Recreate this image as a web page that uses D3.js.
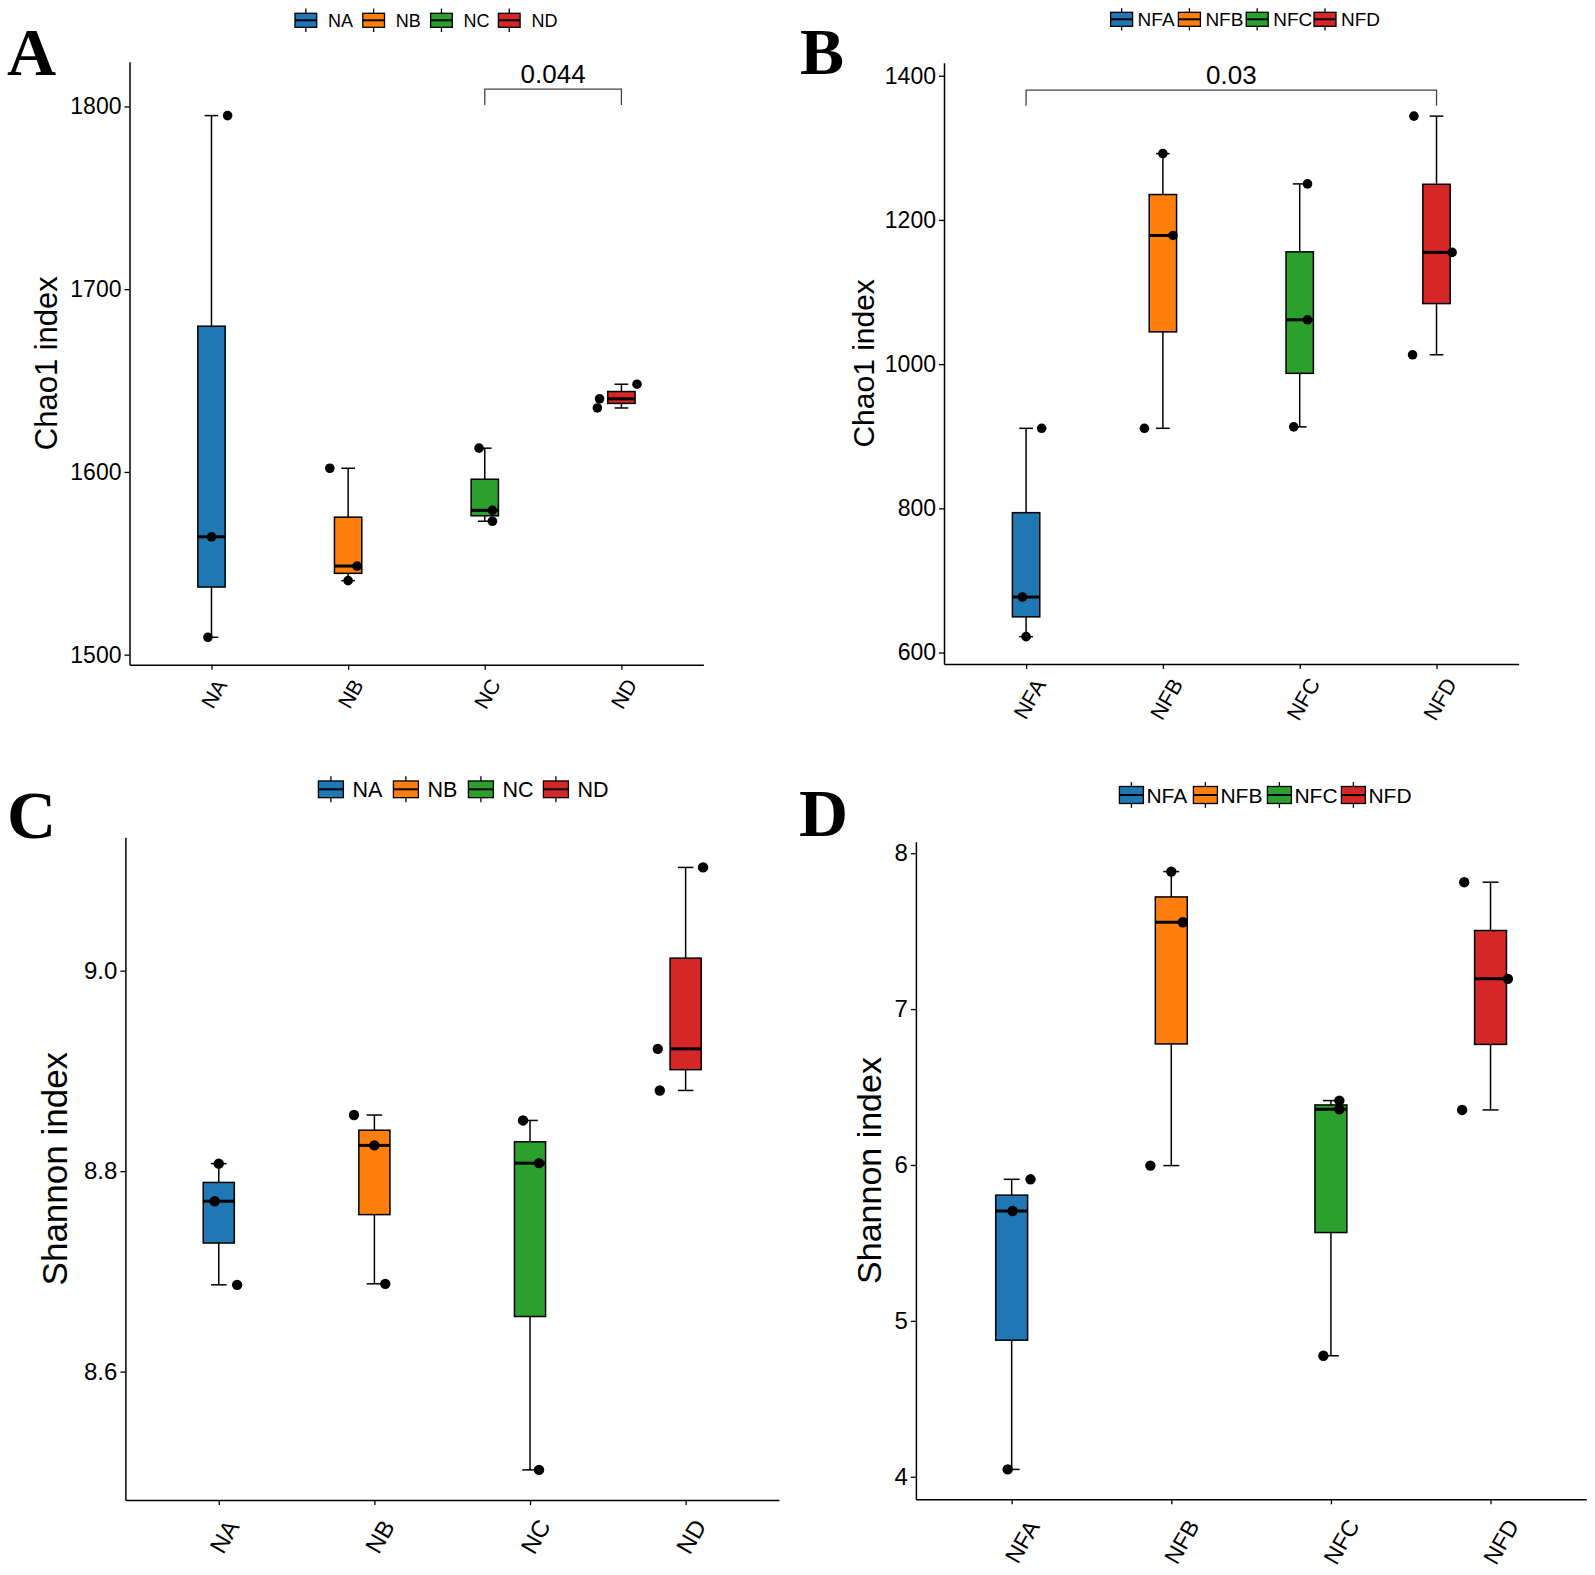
<!DOCTYPE html>
<html><head><meta charset="utf-8">
<script src="https://cdn.jsdelivr.net/npm/d3@7"></script>
<style>
body{margin:0;background:#fff}
svg text{font-family:"Liberation Sans",Arial,sans-serif;fill:#000}
</style>
</head><body>
<svg id="chart" width="1595" height="1575" xmlns="http://www.w3.org/2000/svg"></svg>
<script>
// ---------------- data ----------------
const groupsN  = ["NA","NB","NC","ND"];
const groupsNF = ["NFA","NFB","NFC","NFD"];
const fillColors = ["#1F77B4","#FF7F0E","#2CA02C","#D62728"];

// three samples per group
const chao1N     = [[1795,1564.5,1509.5],[1602,1548.5,1540.5],[1613,1579,1573],[1648,1640,1635]];
const chao1NF    = [[911,677,622],[1292,1178.5,911],[1250,1061.5,913],[1344,1155,1013]];
const shannonN   = [[8.8075,8.77,8.6866],[8.856,8.8257,8.6876],[8.8506,8.808,8.502],[9.103,8.922,8.8805]];
const shannonNF  = [[5.908,5.705,4.047],[7.882,7.557,5.996],[6.413,6.357,4.776],[7.814,7.194,6.353]];

// horizontal jitter of each sample point (fraction of category step)
const jitterA = [[0.118,0,-0.026],[-0.134,0.065,0],[-0.042,0.056,0.056],[0.114,-0.16,-0.176]];
const jitterB = [[0.114,-0.027,0],[0,0.074,-0.135],[0.057,0.057,-0.044],[-0.165,0.114,-0.175]];
const jitterC = [[0,-0.026,0.118],[-0.131,0,0.07],[-0.045,0.058,0.058],[0.112,-0.179,-0.166]];
const jitterD = [[0.118,0.006,-0.025],[0,0.072,-0.131],[0.053,0.053,-0.047],[-0.165,0.109,-0.178]];

const ticksA = [1500,1600,1700,1800];
const ticksB = [600,800,1000,1200,1400];
const ticksC = [8.6,8.8,9.0];
const ticksD = [4,5,6,7,8];

// significance brackets: [from, to, bracket y, tip y, label]
const sigA = ["NC","ND",1809.5,1800.8,"0.044"];
const sigB = ["NFA","NFD",1380.2,1358.4,"0.03"];

// ---------------- layout ----------------
const panels = [
  {letter:"A", letterPos:[7,75], letterSize:68, groups:groupsN, values:chao1N, jitter:jitterA, ticks:ticksA, fmt:d3.format("d"),
   title:"Chao1 index", titleX:57, titleSize:31, x0:129.5, x1:703.4, yTop:61.7, yBot:664.7,
   tickFont:23, xFont:21, xLab:[2,29], r:4.8, sig:sigA,
   legend:{x0:295, step:67.8, cy:20.3, keyW:21.7, keyH:14, whisk:23.4, textOff:33, font:18}},
  {letter:"B", letterPos:[800,74], letterSize:66, groups:groupsNF, values:chao1NF, jitter:jitterB, ticks:ticksB, fmt:d3.format("d"),
   title:"Chao1 index", titleX:874, titleSize:30, x0:944, x1:1518.6, yTop:62.7, yBot:664,
   tickFont:23, xFont:21.5, xLab:[3,35], r:4.8, sig:sigB,
   legend:{x0:1110.6, step:67.8, cy:19.3, keyW:22, keyH:14, whisk:22.3, textOff:27, font:19}},
  {letter:"C", letterPos:[7,838], letterSize:68, groups:groupsN, values:shannonN, jitter:jitterC, ticks:ticksC, fmt:d3.format(".1f"),
   title:"Shannon index", titleX:67, titleSize:35, x0:125.4, x1:779, yTop:837.3, yBot:1500,
   tickFont:24, xFont:24, xLab:[5,36.5], r:5.2, sig:null,
   legend:{x0:318.4, step:75, cy:789.3, keyW:25, keyH:16.7, whisk:26, textOff:34, font:21.5}},
  {letter:"D", letterPos:[799,836], letterSize:68, groups:groupsNF, values:shannonNF, jitter:jitterD, ticks:ticksD, fmt:d3.format("d"),
   title:"Shannon index", titleX:881, titleSize:34, x0:915.9, x1:1586.3, yTop:841.7, yBot:1499.3,
   tickFont:24, xFont:23, xLab:[10,42.4], r:5.2, sig:null,
   legend:{x0:1119.4, step:74, cy:795, keyW:24, keyH:17, whisk:25.7, textOff:27, font:21}}
];

const svg = d3.select("#chart");
svg.append("rect").attr("width",1595).attr("height",1575).attr("fill","#fff");

panels.forEach(p => {
  const g = svg.append("g");
  // y domain: data extent (+ bracket) expanded by 5%
  let lo = d3.min(p.values.flat()), hi = d3.max(p.values.flat());
  if (p.sig) hi = Math.max(hi, p.sig[2]);
  const pad = (hi - lo) * 0.05;
  const y = d3.scaleLinear().domain([lo - pad, hi + pad]).range([p.yBot, p.yTop]);
  const x = d3.scalePoint().domain(p.groups).range([p.x0, p.x1]).padding(0.6);
  const step = x.step();

  // axes
  const ya = g.append("g").attr("transform",`translate(${p.x0},0)`)
    .call(d3.axisLeft(y).tickValues(p.ticks).tickFormat(p.fmt).tickSize(5).tickSizeOuter(0).tickPadding(3));
  ya.select(".domain").attr("stroke","#000").attr("stroke-width",1.5);
  ya.selectAll(".tick line").attr("stroke","#000").attr("stroke-width",1.3);
  ya.selectAll(".tick text").attr("font-size",p.tickFont).attr("font-family","Liberation Sans, Arial, sans-serif").attr("fill","#000");

  const xa = g.append("g").attr("transform",`translate(0,${p.yBot})`)
    .call(d3.axisBottom(x).tickSize(5).tickSizeOuter(0));
  xa.select(".domain").attr("stroke","#000").attr("stroke-width",1.5);
  xa.selectAll(".tick line").attr("stroke","#000").attr("stroke-width",1.3);
  xa.selectAll(".tick text")
    .attr("font-size",p.xFont).attr("font-family","Liberation Sans, Arial, sans-serif").attr("fill","#000")
    .attr("x",0).attr("y",0).attr("dy","0.35em").attr("text-anchor","middle")
    .attr("transform",`translate(${p.xLab[0]},${p.xLab[1]}) rotate(-60)`);
  xa.selectAll("path.domain, line").attr("fill","none");

  // axis title
  g.append("text").attr("transform",`translate(${p.titleX},${(p.yTop+p.yBot)/2}) rotate(-90)`)
    .attr("text-anchor","middle").attr("font-size",p.titleSize).text(p.title);

  // panel letter
  g.append("text").attr("x",p.letterPos[0]).attr("y",p.letterPos[1])
    .attr("font-weight","bold").attr("font-size",p.letterSize)
    .style("font-family","'Liberation Serif','Times New Roman',serif").text(p.letter);

  // boxes
  const stats = p.values.map((v,i) => {
    const s = v.slice().sort(d3.ascending);
    return {name:p.groups[i], color:fillColors[i], min:s[0], max:s[s.length-1],
            q1:d3.quantile(s,0.25), med:d3.quantile(s,0.5), q3:d3.quantile(s,0.75), vals:v, jit:p.jitter[i]};
  });
  const bw = step*0.2, cw = step*0.1;
  const bg = g.selectAll("g.box").data(stats).join("g").attr("class","box");
  bg.append("line").attr("x1",d=>x(d.name)).attr("x2",d=>x(d.name)).attr("y1",d=>y(d.min)).attr("y2",d=>y(d.max))
    .attr("stroke","#000").attr("stroke-width",1.5);
  bg.append("line").attr("x1",d=>x(d.name)-cw/2).attr("x2",d=>x(d.name)+cw/2).attr("y1",d=>y(d.max)).attr("y2",d=>y(d.max))
    .attr("stroke","#000").attr("stroke-width",1.5);
  bg.append("line").attr("x1",d=>x(d.name)-cw/2).attr("x2",d=>x(d.name)+cw/2).attr("y1",d=>y(d.min)).attr("y2",d=>y(d.min))
    .attr("stroke","#000").attr("stroke-width",1.5);
  bg.append("rect").attr("x",d=>x(d.name)-bw/2).attr("width",bw).attr("y",d=>y(d.q3)).attr("height",d=>y(d.q1)-y(d.q3))
    .attr("fill",d=>d.color).attr("stroke","#000").attr("stroke-width",1.5);
  bg.append("line").attr("x1",d=>x(d.name)-bw/2).attr("x2",d=>x(d.name)+bw/2).attr("y1",d=>y(d.med)).attr("y2",d=>y(d.med))
    .attr("stroke","#000").attr("stroke-width",3);
  bg.selectAll("circle").data(d=>d.vals.map((v,k)=>({name:d.name,v:v,j:d.jit[k]}))).join("circle")
    .attr("cx",d=>x(d.name)+d.j*step).attr("cy",d=>y(d.v)).attr("r",p.r).attr("fill","#000");

  // significance bracket
  if (p.sig) {
    const [a,b,yb,yt,lab] = p.sig;
    g.append("path").attr("d",`M${x(a)},${y(yt)}V${y(yb)}H${x(b)}V${y(yt)}`)
      .attr("fill","none").attr("stroke","#444").attr("stroke-width",1.3);
    g.append("text").attr("x",(x(a)+x(b))/2).attr("y",y(yb)-6).attr("text-anchor","middle")
      .attr("font-size",26).text(lab);
  }

  // legend
  const L = p.legend;
  const lg = g.selectAll("g.leg").data(stats).join("g").attr("class","leg")
    .attr("transform",(d,i)=>`translate(${L.x0+i*L.step},${L.cy})`);
  lg.append("line").attr("x1",L.keyW/2).attr("x2",L.keyW/2).attr("y1",-L.whisk/2).attr("y2",L.whisk/2)
    .attr("stroke","#000").attr("stroke-width",1.3);
  lg.append("rect").attr("x",0).attr("y",-L.keyH/2).attr("width",L.keyW).attr("height",L.keyH)
    .attr("fill",d=>d.color).attr("stroke","#000").attr("stroke-width",1.3);
  lg.append("line").attr("x1",0).attr("x2",L.keyW).attr("y1",0).attr("y2",0)
    .attr("stroke","#000").attr("stroke-width",2);
  lg.append("text").attr("x",L.textOff).attr("y",0.36*L.font).attr("font-size",L.font).text(d=>d.name);
});
</script>
</body></html>
